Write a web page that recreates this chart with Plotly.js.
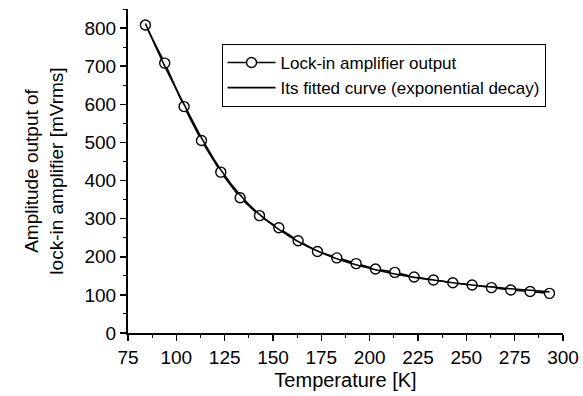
<!DOCTYPE html>
<html>
<head>
<meta charset="utf-8">
<script src="https://cdn.plot.ly/plotly-3.0.1.min.js"></script>
<style>html,body{margin:0;padding:0;background:#fff;}#chart{width:583px;height:396px;}</style>
</head>
<body>
<div id="chart"></div>
<script>
const temperature = [84, 94, 104, 113, 123, 133, 143, 153, 163, 173, 183, 193, 203, 213, 223, 233, 243, 253, 263, 273, 283, 293];
const amplitude = [808, 708, 594, 505, 422, 355, 308, 276, 242, 214, 197, 182, 168, 159, 147, 139, 132, 126, 119, 113, 109, 104];
const fitted = [812, 700, 600, 512, 428, 362, 311, 272, 240, 215, 195, 179, 166, 155, 146, 139, 132, 126, 121, 116, 112, 108];
const xTicks = [75, 100, 125, 150, 175, 200, 225, 250, 275, 300];
const yTicks = [0, 100, 200, 300, 400, 500, 600, 700, 800];

const font = "Liberation Sans, Arial, sans-serif";

const traces = [
  {
    x: temperature, y: amplitude, name: 'Lock-in amplifier output',
    type: 'scatter', mode: 'lines+markers',
    line: {color: '#000', width: 1.6},
    marker: {symbol: 'circle', size: 10, color: '#fff', line: {color: '#000', width: 1.4}}
  },
  {
    x: temperature, y: fitted, name: 'Its fitted curve (exponential decay)',
    type: 'scatter', mode: 'lines',
    line: {color: '#000', width: 1.6, shape: 'spline'}
  }
];

const layout = {
  width: 583, height: 396,
  margin: {l: 128, r: 19.5, t: 9, b: 63},
  paper_bgcolor: '#fff', plot_bgcolor: '#fff',
  font: {family: font, color: '#000', size: 19},
  showlegend: true,
  legend: {
    x: 0.215, y: 0.892, xanchor: 'left', yanchor: 'top',
    bgcolor: '#fff', bordercolor: '#000', borderwidth: 1,
    font: {family: font, size: 17, color: '#000'},
    itemwidth: 48,
    tracegroupgap: 0
  },
  xaxis: {
    range: [75, 300], tickvals: xTicks, ticktext: xTicks.map(String),
    showgrid: false, zeroline: false, showline: true, linecolor: '#000', linewidth: 2,
    ticks: 'outside', ticklen: 6, tickwidth: 1.5, tickcolor: '#000',
    minor: {dtick: 12.5, tick0: 75, ticks: 'outside', ticklen: 3, tickwidth: 1, tickcolor: '#000', showgrid: false},
    tickfont: {family: font, size: 19, color: '#000'},
    title: {text: 'Temperature [K]', font: {family: font, size: 20, color: '#000'}, standoff: 6}
  },
  yaxis: {
    range: [0, 850], tickvals: yTicks, ticktext: yTicks.map(String),
    showgrid: false, zeroline: false, showline: true, linecolor: '#000', linewidth: 2,
    ticks: 'outside', ticklen: 6, tickwidth: 1.5, tickcolor: '#000',
    minor: {dtick: 50, tick0: 0, ticks: 'outside', ticklen: 3, tickwidth: 1, tickcolor: '#000', showgrid: false},
    tickfont: {family: font, size: 19, color: '#000'},
    title: {text: 'Amplitude output of<br>lock-in amplifier [mVrms]', font: {family: font, size: 19, color: '#000'}, standoff: 16}
  }
};

Plotly.newPlot('chart', traces, layout, {displayModeBar: false, staticPlot: true});
</script>
</body>
</html>
